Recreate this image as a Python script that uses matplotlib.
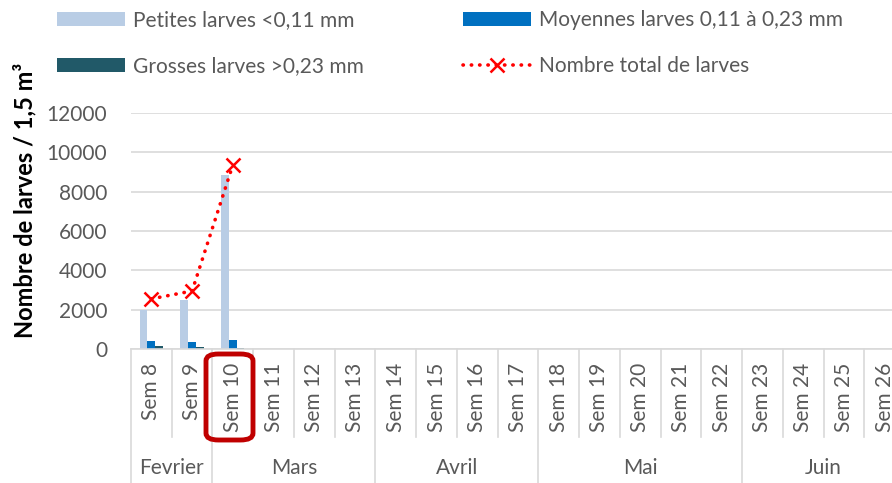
import numpy as np
import matplotlib.pyplot as plt
from matplotlib.patches import FancyBboxPatch
from matplotlib.lines import Line2D

plt.rcParams['font.family'] = ['Lato', 'DejaVu Sans']

weeks = ["Sem %d" % w for w in range(8, 27)]
months = ["Fevrier", "Mars", "Avril", "Mai", "Juin"]
month_len = [2, 4, 4, 5, 4]

petites = [2000, 2500, 8860]
moyennes = [400, 350, 450]
grosses = [150, 100, 50]
total = [2550, 2950, 9360]

c_pet = "#B9CDE5"
c_moy = "#0070C0"
c_gro = "#215968"
c_txt = "#595959"
fs = 15

fig = plt.figure(figsize=(8.92, 4.83), dpi=100)
ax = fig.add_axes([131 / 892, 1 - 349 / 483, 774 / 892, 236 / 483])

x = np.arange(len(weeks))
n = len(petites)
w = 0.19
b1 = ax.bar(x[:n] - w, petites, w, color=c_pet, label="Petites larves <0,11 mm", zorder=2)
b2 = ax.bar(x[:n], moyennes, w, color=c_moy, label="Moyennes larves 0,11 à 0,23 mm", zorder=2)
b3 = ax.bar(x[:n] + w, grosses, w, color=c_gro, label="Grosses larves >0,23 mm", zorder=2)
l1, = ax.plot(x[:n], total, color="red", linestyle=(0, (0.1, 2.2)), linewidth=2.6,
              dash_capstyle="round", marker="x", markersize=10, markeredgewidth=1.8,
              label="Nombre total de larves", zorder=3)

ax.set_xlim(-0.5, len(weeks) - 0.5)
ax.set_ylim(0, 12000)
ax.set_yticks(range(0, 12001, 2000))
ax.grid(axis="y", color="#D9D9D9", linewidth=1.2, zorder=0)
ax.set_axisbelow(True)
for s in ["top", "right", "left"]:
    ax.spines[s].set_visible(False)
ax.spines["bottom"].set_color("#D9D9D9")
ax.spines["bottom"].set_linewidth(1.2)
ax.tick_params(axis="y", length=0, labelsize=fs, labelcolor=c_txt, pad=17)
ax.set_xticks([])

ax.set_ylabel("Nombre de larves / 1,5 m³", fontsize=17, fontweight="bold",
              color="black", va="center")
ax.yaxis.set_label_coords(-0.137, 0.63)

# category axis labels (the last one runs off the right edge, as in the original)
trans = ax.get_xaxis_transform()
for i, wk in enumerate(weeks):
    ax.text(i, -0.06, wk, rotation=90, ha="center", va="top", fontsize=fs,
            color=c_txt, transform=trans, clip_on=False)

start = 0
bounds = [-0.5]
for m, ln in zip(months, month_len):
    ax.text(start + (ln - 1) / 2, -0.505, m, ha="center", va="center",
            fontsize=fs, color=c_txt, transform=trans, clip_on=False)
    start += ln
    bounds.append(start - 0.5)

for b in np.arange(-0.5, len(weeks), 1.0):
    if any(abs(b - mb) < 1e-6 for mb in bounds):
        ymin = -0.58
    else:
        ymin = -0.373
    ax.add_line(Line2D([b, b], [0, ymin], transform=trans, color="#D9D9D9",
                       linewidth=1.2, clip_on=False))

# highlight box around Sem 10
box = FancyBboxPatch((206 / 892, 1 - 440 / 483), 47 / 892, 86 / 483,
                     boxstyle="round,pad=0,rounding_size=0.014",
                     transform=fig.transFigure, fill=False,
                     edgecolor="#C00000", linewidth=3.5)
fig.patches.append(box)

leg_kw = dict(loc="upper left", frameon=False, fontsize=fs, labelcolor=c_txt,
              handlelength=3.25, handleheight=0.68, labelspacing=1.25,
              handletextpad=0.38, borderpad=0, borderaxespad=0)
fig.legend([b1, b3], [b1.get_label(), b3.get_label()],
           bbox_to_anchor=(57 / 892, 1 - 10 / 483), **leg_kw)
fig.legend([b2, l1], [b2.get_label(), l1.get_label()],
           bbox_to_anchor=(463 / 892, 1 - 10 / 483), **leg_kw)

fig.savefig("out.png", dpi=100)
